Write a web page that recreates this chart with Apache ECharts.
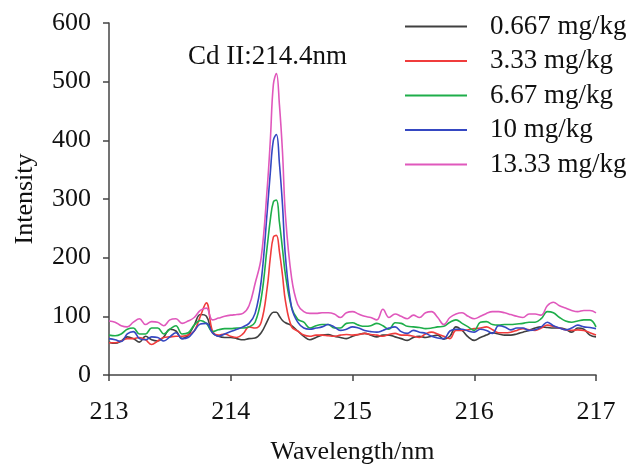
<!DOCTYPE html>
<html>
<head>
<meta charset="utf-8">
<script src="https://cdn.jsdelivr.net/npm/echarts@6/dist/echarts.min.js"></script>
<style>html,body{margin:0;padding:0;background:#fff}#c{width:631px;height:465px}</style>
</head>
<body>
<div id="c"></div>
<script>
const wavelength = [213.0,213.05,213.1,213.15,213.2,213.25,213.3,213.35,213.4,213.45,213.5,213.55,213.6,213.65,213.7,213.75,213.8,213.85,213.9,213.95,214.0,214.05,214.1,214.15,
214.2,214.25,214.3,214.325,214.35,214.375,214.4,214.425,214.45,214.5,214.55,214.6,
214.65,214.7,214.75,214.8,214.85,214.9,214.95,215.0,215.05,215.1,215.15,215.2,215.25,215.3,215.35,215.4,215.45,215.5,215.55,215.6,215.65,215.7,215.75,215.8,215.85,215.9,215.95,216.0,216.05,216.1,216.15,216.2,216.25,216.3,216.35,216.4,216.45,216.5,216.55,216.6,216.65,216.7,216.75,216.8,216.85,216.9,216.95,217.0];

const s0667 = [56,54,58,65,62,56,66,60,58,65,78,75,62,68,85,103,100,72,66,64,64,62,60,62,
63,72,92,102,107,107,100,93,89,84,75,66,
60,64,68,69,66,64,62,66,69,71,68,65,68,68,65,62,59,64,66,64,66,68,61,66,82,76,65,59,64,68,72,70,68,68,70,73,76,80,82,81,80,80,78,73,80,78,68,65];

const s333 = [55,55,58,62,62,64,60,52,58,64,65,66,66,68,75,100,123,75,68,70,66,64,70,82,
80,90,150,200,235,238,210,170,125,82,75,68,
66,68,68,67,66,68,69,68,69,71,69,68,66,69,71,68,68,66,64,70,73,70,66,62,76,76,77,79,80,82,77,72,72,73,76,79,77,76,80,85,83,80,77,76,77,76,72,68];

const s667 = [68,67,70,78,80,70,70,80,80,70,78,84,70,72,85,93,88,74,77,79,79,80,80,82,
90,130,220,265,295,298,260,215,170,115,95,90,
80,84,86,86,80,80,88,89,85,83,84,88,84,78,89,88,83,82,81,79,80,82,83,90,94,88,82,76,90,91,86,85,86,86,87,88,90,90,96,108,106,98,92,90,92,94,94,82];

const s10 = [62,60,57,70,74,62,60,65,64,58,65,72,62,64,75,87,88,72,66,70,74,78,82,88,
105,160,280,345,400,410,360,290,200,115,90,80,
78,80,82,86,82,76,78,82,80,76,74,73,76,80,82,74,71,76,73,71,66,63,62,75,78,78,75,73,78,76,71,84,82,77,80,80,76,77,82,90,84,80,77,80,85,82,81,79];

const s1333 = [92,90,84,82,90,96,86,91,90,84,94,96,88,92,98,110,114,94,97,100,102,103,105,118,
156,200,320,400,495,514,460,380,270,165,120,108,
105,105,106,106,104,98,106,108,104,100,98,94,112,98,104,100,96,102,98,106,108,98,86,98,104,106,100,96,100,105,108,108,106,103,100,98,104,104,102,118,124,118,114,110,108,110,110,106];

const seriesNames = ['0.667 mg/kg','3.33 mg/kg','6.67 mg/kg','10 mg/kg','13.33 mg/kg'];
const seriesValues = [s0667, s333, s667, s10, s1333];
const seriesColors = ['#404040','#f03c3c','#1eae4a','#3548c2','#e058bc'];
const xTicks = [213,214,215,216,217];
const yTicks = [0,100,200,300,400,500,600];
const annotation = 'Cd II:214.4nm';

const font = '"Liberation Serif", "Times New Roman", Times, serif';
const chart = echarts.init(document.getElementById('c'));
chart.setOption({
  animation: false,
  backgroundColor: '#fff',
  grid: {left: 109, right: 35, top: 23, bottom: 90, containLabel: false, outerBoundsMode: 'none'},
  legend: {
    orient: 'vertical', left: 400, top: 8,
    icon: 'rect', itemWidth: 62, itemHeight: 2, itemGap: 7.5,
    data: seriesNames,
    textStyle: {fontFamily: font, fontSize: 27, color: '#111', padding: [0,0,0,18], lineHeight: 26}
  },
  graphic: [{
    type: 'text', left: 188, top: 43,
    style: {text: annotation, fontFamily: font, fontSize: 27, fill: '#111'}
  }],
  xAxis: {
    type: 'value', min: xTicks[0], max: xTicks[xTicks.length-1], interval: 1,
    name: 'Wavelength/nm', nameLocation: 'middle', nameGap: 64,
    nameTextStyle: {fontFamily: font, fontSize: 26, color: '#111'},
    axisLine: {lineStyle: {color: '#444', width: 1.5}},
    axisTick: {length: 6, lineStyle: {color: '#444', width: 1.5}},
    axisLabel: {fontFamily: font, fontSize: 26, color: '#111', margin: 24},
    splitLine: {show: false}
  },
  yAxis: {
    type: 'value', min: yTicks[0], max: yTicks[yTicks.length-1], interval: 100,
    name: 'Intensity', nameLocation: 'middle', nameGap: 71,
    nameTextStyle: {fontFamily: font, fontSize: 26, color: '#111'},
    axisLine: {show: true, lineStyle: {color: '#444', width: 1.5}},
    axisTick: {show: true, length: 6, lineStyle: {color: '#444', width: 1.5}},
    axisLabel: {fontFamily: font, fontSize: 26, color: '#111', margin: 18},
    splitLine: {show: false}
  },
  series: seriesNames.map((n, i) => ({
    name: n, type: 'line', smooth: 0.4, symbol: 'none',
    color: seriesColors[i],
    lineStyle: {width: 1.6, color: seriesColors[i]},
    data: wavelength.map((w, j) => [w, seriesValues[i][j]])
  }))
});
</script>
</body>
</html>
